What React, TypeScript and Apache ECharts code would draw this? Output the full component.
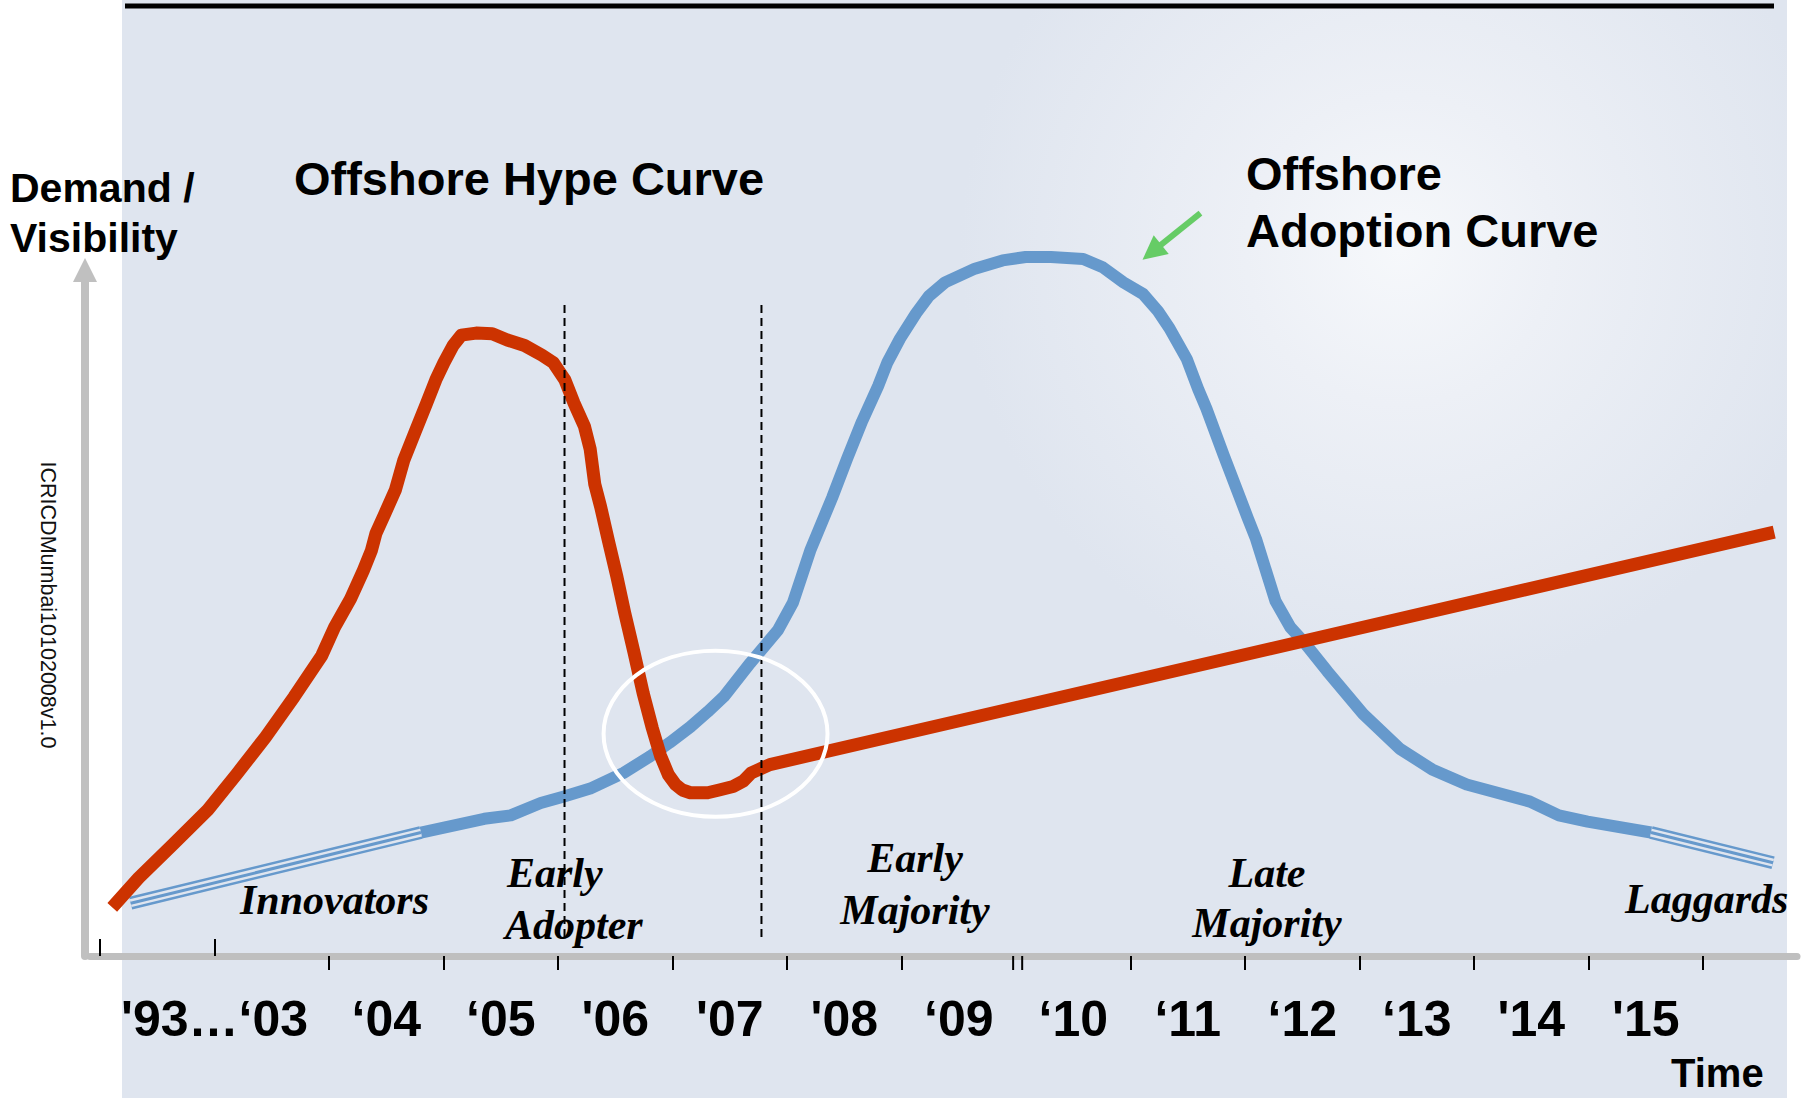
import React, { useEffect, useRef } from 'react';
import * as echarts from 'echarts';

// ---------------- data ----------------
// half-year slots along the time axis (ticks on whole years, labels in between)
const slotYears = [
  2002, 2002.5, 2003, 2003.5, 2004, 2004.5, 2005, 2005.5, 2006, 2006.5, 2007, 2007.5,
  2008, 2008.5, 2009, 2009.5, 2010, 2010.5, 2011, 2011.5, 2012, 2012.5, 2013, 2013.5,
  2014, 2014.5, 2015, 2015.5, 2016,
];
const slotLabels = [
  '', '', "'93…‘03", '', '', '‘04', '', '‘05', '', "'06", '', "'07", '', "'08", '',
  '‘09', '', '‘10', '', '‘11', '', '‘12', '', '‘13', '', "'14", '', "'15", '',
];

// Offshore hype curve (red)
const hypeX = [
  2002.107, 2002.338, 2002.640, 2002.942, 2003.193, 2003.445, 2003.696, 2003.937, 2004.048,
  2004.189, 2004.300, 2004.370, 2004.410, 2004.491, 2004.581, 2004.652, 2004.752, 2004.853,
  2004.933, 2005.004, 2005.084, 2005.155, 2005.285, 2005.426, 2005.557, 2005.708, 2005.859,
  2005.959, 2006.060, 2006.140, 2006.231, 2006.281, 2006.321, 2006.372, 2006.442, 2006.513,
  2006.583, 2006.663, 2006.744, 2006.824, 2006.895, 2006.965, 2007.026, 2007.086, 2007.156,
  2007.307, 2007.408, 2007.529, 2007.619, 2007.689, 2007.850, 2016.622,
];
const hypeY = [
  7.1, 11.4, 16.3, 21.3, 26.5, 31.9, 37.8, 43.8, 47.9,
  52.1, 56.2, 59.1, 61.6, 64.6, 68.0, 72.2, 76.4, 80.6,
  84.0, 86.5, 89.0, 90.5, 90.8, 90.7, 89.8, 89.0, 87.6,
  86.5, 84.0, 80.6, 77.2, 73.9, 68.8, 65.5, 60.4, 55.4,
  50.0, 44.3, 38.3, 33.2, 29.2, 26.4, 25.0, 24.2, 23.8,
  23.8, 24.2, 24.7, 25.5, 26.7, 27.9, 61.8,
];

// Offshore adoption curve (blue), solid part
const adoptX = [
  2004.803, 2005.356, 2005.587, 2005.849, 2006.060, 2006.281, 2006.573, 2006.804, 2006.975,
  2007.156, 2007.307, 2007.448, 2007.679, 2007.921, 2008.052, 2008.203, 2008.394, 2008.525,
  2008.655, 2008.796, 2008.876, 2008.987, 2009.128, 2009.239, 2009.380, 2009.641, 2009.883,
  2010.084, 2010.305, 2010.587, 2010.757, 2010.938, 2011.110, 2011.240, 2011.341, 2011.492,
  2011.592, 2011.663, 2011.814, 2012.025, 2012.096, 2012.267, 2012.397, 2012.518, 2012.719,
  2013.031, 2013.353, 2013.634, 2013.936, 2014.489, 2014.741, 2014.992, 2015.546,
];
const adoptY = [
  18.0, 20.0, 20.5, 22.3, 23.3, 24.4, 26.7, 29.1, 31.1,
  33.4, 35.6, 37.8, 42.7, 47.5, 51.5, 59.1, 66.8, 72.5,
  77.9, 83.1, 86.5, 90.0, 93.7, 96.2, 98.2, 100.2, 101.4,
  101.9, 101.9, 101.6, 100.4, 98.2, 96.5, 94.0, 91.5, 87.0,
  82.6, 79.8, 73.0, 63.8, 60.8, 51.7, 47.9, 45.7, 41.5,
  35.3, 30.2, 27.2, 25.0, 22.5, 20.5, 19.6, 18.0,
];
// striped (tail) parts of the adoption curve
const innovatorsX = [2002.268, 2004.803];
const innovatorsY = [7.7, 18.0];
const laggardsX = [2015.546, 2016.612];
const laggardsY = [18.0, 13.6];

// phase boundaries (dashed)
const phaseBoundaryX = [2006.057, 2007.777];
const phaseBoundaryY = [94.9, 2.2];

// highlighted "chasm" ellipse: centre x, centre y, radius x (years), radius y
const chasm = [2007.376, 32.4, 0.978, 12.1];
// green pointer: tail x, tail y, tip x, tip y
const pointer = [2011.611, 108.3, 2011.105, 101.5];
// doubled tick at 2010
const doubleTickX = [2009.975, 2010.054];
const doubleTickY = [0, -2.04];

// ---------------- layout ----------------
const W = 1806;
const H = 1098;
const AXIS_LEFT = 90;
const AXIS_RIGHT = 1797;
const TICK_LEFT = 100;
const TICK_RIGHT = 1703;
const AXIS_Y = 956;
const PLOT_TOP = 270;
const PX_PER_YEAR = (TICK_RIGHT - TICK_LEFT) / (slotYears[slotYears.length - 1] - slotYears[0]);
const X_MIN = slotYears[0] - (TICK_LEFT - AXIS_LEFT) / PX_PER_YEAR;
const X_MAX = slotYears[slotYears.length - 1] + (AXIS_RIGHT - TICK_RIGHT) / PX_PER_YEAR;

const SANS = "'Liberation Sans', Arial, Helvetica, sans-serif";
const SERIF = "'Liberation Serif', 'Times New Roman', serif";
const RED = '#cc3300';
const BLUE = '#6699cc';
const PANEL = '#dfe5ef';

const zip = (xs: number[], ys: number[]) => xs.map((x, i) => [x, ys[i]]);

function lineSeries(data: number[][], color: string, width: number, z: number, extra: any = {}) {
  return {
    type: 'line',
    xAxisIndex: 0,
    yAxisIndex: 0,
    data,
    symbol: 'none',
    clip: false,
    silent: true,
    z,
    lineStyle: { color, width, join: 'round', cap: 'butt', ...extra },
  };
}

function striped(xs: number[], ys: number[]) {
  const d = zip(xs, ys);
  return [
    lineSeries(d, BLUE, 13, 3),
    lineSeries(d, PANEL, 8, 3),
    lineSeries(d, BLUE, 3, 3),
  ];
}

function phaseText(text: string, x: number, y: number, align: string) {
  return {
    type: 'text',
    x,
    y,
    z: 20,
    style: {
      text,
      fill: '#000',
      fontFamily: SERIF,
      fontSize: 42,
      fontWeight: 'bold',
      fontStyle: 'italic',
      align,
      verticalAlign: 'middle',
    },
  };
}

function boldText(text: string, x: number, y: number, size: number) {
  return {
    type: 'text',
    x,
    y,
    z: 20,
    style: {
      text,
      fill: '#000',
      fontFamily: SANS,
      fontSize: size,
      fontWeight: 'bold',
      align: 'left',
      verticalAlign: 'middle',
    },
  };
}

function buildOption() {
  const tickStyle = { color: '#000', width: 2 };
  return {
    animation: false,
    backgroundColor: '#ffffff',
    grid: [
      { left: AXIS_LEFT, right: W - AXIS_RIGHT, top: PLOT_TOP, bottom: H - AXIS_Y },
      { left: TICK_LEFT, right: W - TICK_RIGHT, top: PLOT_TOP, bottom: H - AXIS_Y },
    ],
    xAxis: [
      {
        type: 'value',
        gridIndex: 0,
        min: X_MIN,
        max: X_MAX,
        z: 1,
        axisLine: { show: true, onZero: false, lineStyle: { color: '#bfbfbf', width: 7 } },
        axisTick: { show: false },
        axisLabel: { show: false },
        splitLine: { show: false },
      },
      {
        type: 'category',
        gridIndex: 1,
        position: 'bottom',
        data: slotYears.map(String),
        boundaryGap: false,
        z: 5,
        axisLine: { show: false },
        axisTick: {
          show: true,
          inside: false,
          length: 14,
          interval: (i: number) => i >= 4 && i % 2 === 0 && i !== 16,
          lineStyle: tickStyle,
        },
        axisLabel: {
          show: true,
          interval: 0,
          formatter: (_v: string, i: number) => slotLabels[i],
          margin: 63,
          verticalAlign: 'middle',
          fontFamily: SANS,
          fontSize: 50,
          fontWeight: 'bold',
          color: '#000',
        },
        splitLine: { show: false },
      },
      {
        type: 'category',
        gridIndex: 1,
        position: 'bottom',
        data: slotYears.map(String),
        boundaryGap: false,
        z: 5,
        axisLine: { show: false },
        axisTick: {
          show: true,
          inside: true,
          length: 17,
          interval: (i: number) => i === 0 || i === 2,
          lineStyle: tickStyle,
        },
        axisLabel: { show: false },
        splitLine: { show: false },
      },
    ],
    yAxis: [
      {
        type: 'value',
        gridIndex: 0,
        min: 0,
        max: 100,
        offset: 5,
        z: 1,
        axisLine: {
          show: true,
          onZero: false,
          symbol: ['none', 'triangle'],
          symbolSize: [24, 24],
          lineStyle: { color: '#c0c0c0', width: 8 },
        },
        axisTick: { show: false },
        axisLabel: { show: false },
        splitLine: { show: false },
      },
      { type: 'value', gridIndex: 1, show: false, min: 0, max: 100 },
    ],
    series: [
      lineSeries(zip(adoptX, adoptY), BLUE, 12, 3),
      ...striped(innovatorsX, innovatorsY),
      ...striped(laggardsX, laggardsY),
      lineSeries(zip(hypeX, hypeY), RED, 13, 4),
      ...phaseBoundaryX.map((x) =>
        lineSeries(phaseBoundaryY.map((y) => [x, y]), '#000', 2, 6, { type: [8, 5] })
      ),
      ...doubleTickX.map((x) => lineSeries(doubleTickY.map((y) => [x, y]), '#000', 2, 6)),
      {
        type: 'custom',
        xAxisIndex: 0,
        yAxisIndex: 0,
        clip: false,
        silent: true,
        z: 7,
        data: [chasm],
        renderItem: (_p: any, api: any) => {
          const c = api.coord([api.value(0), api.value(1)]);
          const s = api.size([api.value(2), api.value(3)]);
          return {
            type: 'ellipse',
            shape: { cx: c[0], cy: c[1], rx: s[0], ry: s[1] },
            style: { fill: 'none', stroke: '#ffffff', lineWidth: 4 },
          };
        },
      },
      {
        type: 'custom',
        xAxisIndex: 0,
        yAxisIndex: 0,
        clip: false,
        silent: true,
        z: 7,
        data: [pointer],
        renderItem: (_p: any, api: any) => {
          const tail = api.coord([api.value(0), api.value(1)]);
          const tip = api.coord([api.value(2), api.value(3)]);
          const dx = tail[0] - tip[0];
          const dy = tail[1] - tip[1];
          const len = Math.sqrt(dx * dx + dy * dy);
          const ux = dx / len;
          const uy = dy / len;
          const headLen = 24;
          const half = 12;
          const bx = tip[0] + ux * headLen;
          const by = tip[1] + uy * headLen;
          return {
            type: 'group',
            children: [
              {
                type: 'line',
                shape: { x1: tail[0], y1: tail[1], x2: bx - ux * 2, y2: by - uy * 2 },
                style: { stroke: '#66cc66', lineWidth: 6 },
              },
              {
                type: 'polygon',
                shape: {
                  points: [
                    [tip[0], tip[1]],
                    [bx - uy * half, by + ux * half],
                    [bx + uy * half, by - ux * half],
                  ],
                },
                style: { fill: '#66cc66' },
              },
            ],
          };
        },
      },
    ],
    graphic: [
      {
        type: 'rect',
        z: -100,
        silent: true,
        shape: { x: 122, y: 0, width: 1665, height: H },
        style: {
          fill: new echarts.graphic.RadialGradient(
            1400,
            250,
            440,
            [
              { offset: 0, color: '#f6f8fb' },
              { offset: 0.35, color: '#edf0f6' },
              { offset: 1, color: PANEL },
            ],
            true
          ),
        },
      },
      {
        type: 'line',
        z: 10,
        silent: true,
        shape: { x1: 125, y1: 6, x2: 1774, y2: 6 },
        style: { stroke: '#000', lineWidth: 5 },
      },
      boldText('Demand /', 10, 188, 41),
      boldText('Visibility', 10, 238, 41),
      boldText('Offshore Hype Curve', 294, 178, 47),
      boldText('Offshore', 1246, 173, 47),
      boldText('Adoption Curve', 1246, 230, 47),
      boldText('Time', 1671, 1073, 40),
      phaseText('Innovators', 240, 900, 'left'),
      phaseText('Early', 507, 873, 'left'),
      phaseText('Adopter', 505, 925, 'left'),
      phaseText('Early', 915, 858, 'center'),
      phaseText('Majority', 915, 910, 'center'),
      phaseText('Late', 1267, 873, 'center'),
      phaseText('Majority', 1267, 923, 'center'),
      phaseText('Laggards', 1625, 899, 'left'),
      {
        type: 'text',
        x: 48,
        y: 605,
        rotation: -Math.PI / 2,
        z: 20,
        style: {
          text: 'ICRICDMumbai10102008v1.0',
          fill: '#111',
          fontFamily: SANS,
          fontSize: 21.5,
          align: 'center',
          verticalAlign: 'middle',
        },
      },
    ],
  };
}

export default function App() {
  const ref = useRef<HTMLDivElement>(null);
  useEffect(() => {
    document.body.style.margin = '0';
    const chart = echarts.init(ref.current as HTMLDivElement, null, { renderer: 'svg' });
    chart.setOption(buildOption() as any);
    return () => chart.dispose();
  }, []);
  return (
    <div
      ref={ref}
      style={{ position: 'absolute', left: 0, top: 0, width: W, height: H }}
    />
  );
}
